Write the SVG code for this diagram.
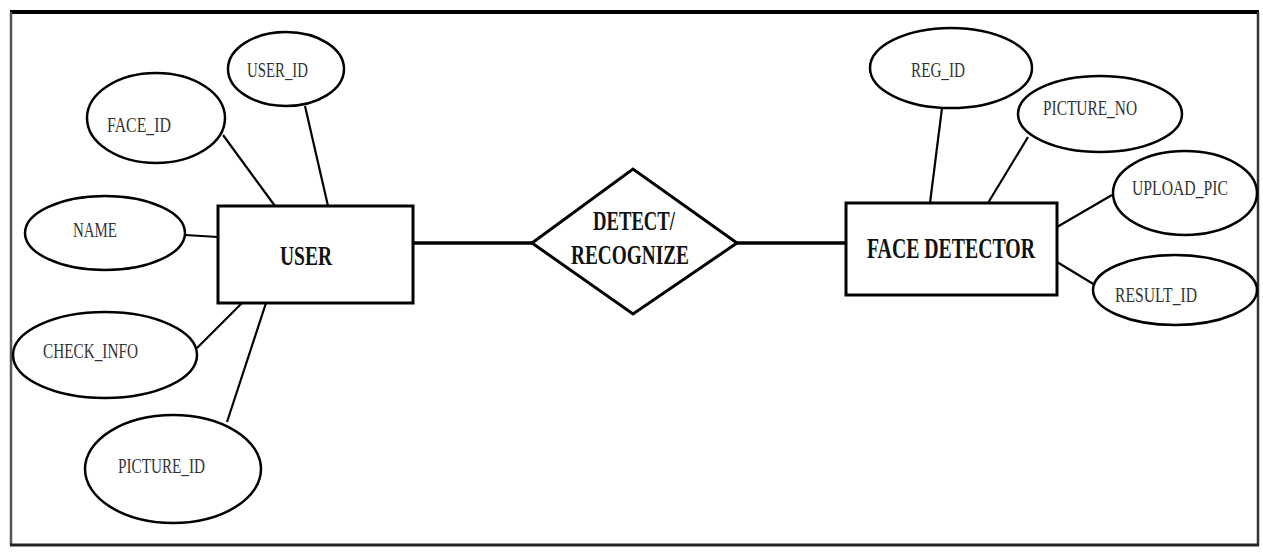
<svg xmlns="http://www.w3.org/2000/svg" width="1263" height="556" viewBox="0 0 1263 556">
<style>
.ell{fill:#fff;stroke:#000;stroke-width:2.5}
.ent{fill:#fff;stroke:#000;stroke-width:3}
.lbl{font-family:"Liberation Serif",serif;font-size:21px;fill:#333;text-anchor:start}
.big{font-family:"Liberation Serif",serif;font-weight:bold;fill:#111;text-anchor:start}
.ln{stroke:#000;stroke-width:2.2;fill:none}
.rl{stroke:#000;stroke-width:3.5;fill:none}
</style>
<rect width="1263" height="556" fill="#fff"/>
<g id="frame">
<line x1="10" y1="12" x2="1259" y2="12" stroke="#000" stroke-width="4"/>
<line x1="11" y1="12" x2="11" y2="546" stroke="#555" stroke-width="2.5"/>
<line x1="1258" y1="12" x2="1258" y2="546" stroke="#333" stroke-width="2.5"/>
<line x1="10" y1="545" x2="1259" y2="545" stroke="#222" stroke-width="3"/>
</g>
<g id="connectors">
<line class="ln" x1="223" y1="135" x2="275" y2="206"/>
<line class="ln" x1="305" y1="106" x2="328" y2="206"/>
<line class="ln" x1="185" y1="235" x2="218" y2="237"/>
<line class="ln" x1="197" y1="348" x2="242" y2="303"/>
<line class="ln" x1="227" y1="422" x2="266" y2="303"/>
<line class="rl" x1="413" y1="243" x2="532" y2="243"/>
<line class="rl" x1="737" y1="243" x2="846" y2="243"/>
<line class="ln" x1="942" y1="108" x2="930" y2="203"/>
<line class="ln" x1="1028" y1="137" x2="988" y2="203"/>
<line class="ln" x1="1112" y1="195" x2="1057" y2="227"/>
<line class="ln" x1="1057" y1="262" x2="1095" y2="285"/>
</g>
<g id="user">
<rect class="ent" x="218" y="206" width="195" height="97"/>
<text class="big" x="280" y="265" font-size="27" textLength="52" lengthAdjust="spacingAndGlyphs">USER</text>
</g>
<g id="detect">
<polygon class="ent" points="532,243 633,169 737,243 633,314"/>
<text class="big" x="593" y="230" font-size="27" textLength="82" lengthAdjust="spacingAndGlyphs">DETECT/</text>
<text class="big" x="571" y="264" font-size="27" textLength="118" lengthAdjust="spacingAndGlyphs">RECOGNIZE</text>
</g>
<g id="face-detector">
<rect class="ent" x="846" y="203" width="211" height="92"/>
<text class="big" x="867" y="258" font-size="29" textLength="168" lengthAdjust="spacingAndGlyphs">FACE DETECTOR</text>
</g>
<g id="attr-user-id">
<ellipse class="ell" cx="286" cy="69" rx="58" ry="37"/>
<text class="lbl" x="247" y="77" textLength="61" lengthAdjust="spacingAndGlyphs">USER_ID</text>
</g>
<g id="attr-face-id">
<ellipse class="ell" cx="156" cy="118" rx="69" ry="45"/>
<text class="lbl" x="107" y="132" textLength="64" lengthAdjust="spacingAndGlyphs">FACE_ID</text>
</g>
<g id="attr-name">
<ellipse class="ell" cx="105" cy="233" rx="80" ry="37"/>
<text class="lbl" x="73" y="237" textLength="44" lengthAdjust="spacingAndGlyphs">NAME</text>
</g>
<g id="attr-check-info">
<ellipse class="ell" cx="105" cy="355" rx="92" ry="43"/>
<text class="lbl" x="43" y="358" textLength="95" lengthAdjust="spacingAndGlyphs">CHECK_INFO</text>
</g>
<g id="attr-picture-id">
<ellipse class="ell" cx="173" cy="469" rx="88" ry="54"/>
<text class="lbl" x="118" y="473" textLength="87" lengthAdjust="spacingAndGlyphs">PICTURE_ID</text>
</g>
<g id="attr-reg-id">
<ellipse class="ell" cx="951" cy="68" rx="81" ry="40"/>
<text class="lbl" x="911" y="77" textLength="54" lengthAdjust="spacingAndGlyphs">REG_ID</text>
</g>
<g id="attr-picture-no">
<ellipse class="ell" cx="1100" cy="114" rx="82" ry="38"/>
<text class="lbl" x="1043" y="115" textLength="94" lengthAdjust="spacingAndGlyphs">PICTURE_NO</text>
</g>
<g id="attr-upload-pic">
<ellipse class="ell" cx="1185" cy="193" rx="72" ry="42"/>
<text class="lbl" x="1132" y="195" textLength="96" lengthAdjust="spacingAndGlyphs">UPLOAD_PIC</text>
</g>
<g id="attr-result-id">
<ellipse class="ell" cx="1175" cy="290" rx="82" ry="35"/>
<text class="lbl" x="1115" y="302" textLength="82" lengthAdjust="spacingAndGlyphs">RESULT_ID</text>
</g>
</svg>
